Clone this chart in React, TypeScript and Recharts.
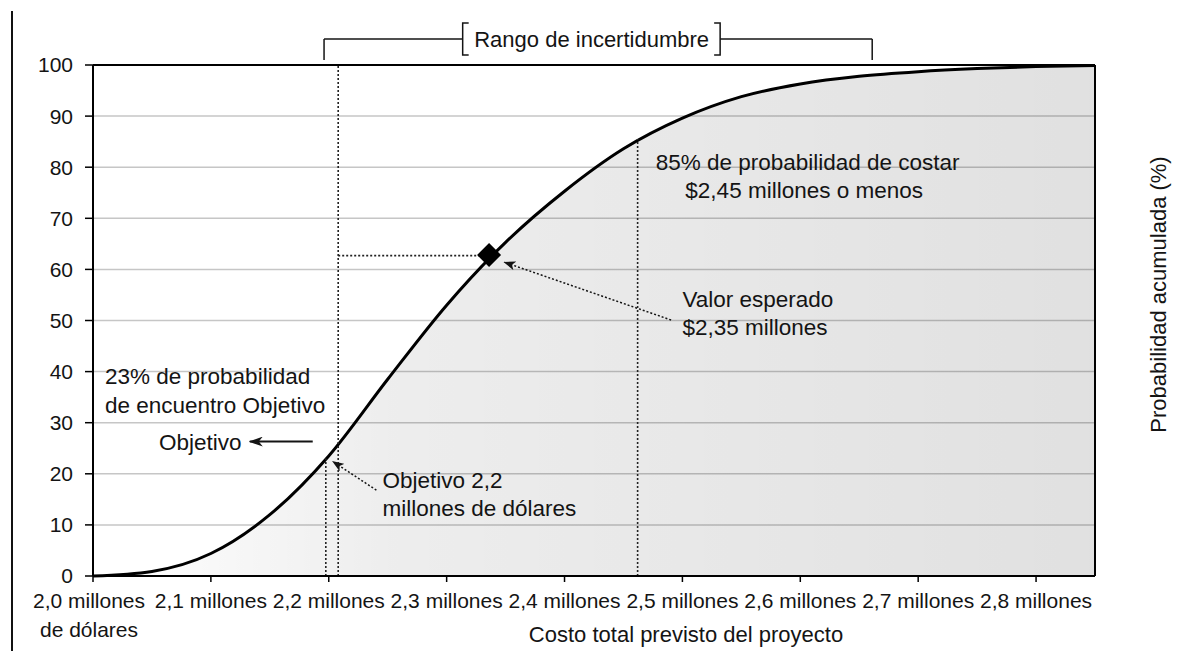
import React from "react";
import {
  ComposedChart,
  Area,
  Scatter,
  XAxis,
  YAxis,
  CartesianGrid,
  ReferenceLine,
  ReferenceDot,
  Label,
} from "recharts";

// costo total (millones) y probabilidad acumulada (%)
const costs = [2.0, 2.05, 2.1, 2.15, 2.2, 2.25, 2.3, 2.35, 2.4, 2.45, 2.5, 2.55, 2.6, 2.65, 2.7, 2.75, 2.8, 2.85];
const cumulative = [0, 0.9, 4.4, 12, 23.5, 38.5, 53, 65.3, 75.3, 83.6, 89.6, 93.8, 96.3, 97.8, 98.7, 99.3, 99.7, 99.9];

const xTicks = [2.0, 2.1, 2.2, 2.3, 2.4, 2.5, 2.6, 2.7, 2.8];
const xTickLabels = [
  "2,0 millones\nde dólares",
  "2,1 millones",
  "2,2 millones",
  "2,3 millones",
  "2,4 millones",
  "2,5 millones",
  "2,6 millones",
  "2,7 millones",
  "2,8 millones",
];
const yTicks = [0, 10, 20, 30, 40, 50, 60, 70, 80, 90, 100];

const expected = [{ x: 2.336, y: 62.8 }];
const targetCost = 2.1975;
const targetProb = 23;
const rangeLineCost = 2.208;
const p85Cost = 2.462;
const p85Prob = 85.5;
const uncertainty = [2.196, 2.661];

const data = costs.map((x, i) => ({ x, y: cumulative[i] }));

const FONT = '"Liberation Sans", Arial, sans-serif';
const INK = "#141414";

const XTick = (props: any) => {
  const { x, y, payload } = props;
  const idx = xTicks.findIndex((t) => Math.abs(t - payload.value) < 1e-6);
  const lines = (xTickLabels[idx] || "").split("\n");
  const tx = idx === 0 ? x - 4 : x;
  return (
    <text x={tx} y={y} textAnchor="middle" fontSize={21} fill={INK} fontFamily={FONT}>
      {lines.map((l, k) => (
        <tspan key={k} x={tx} dy={k === 0 ? "0.71em" : "1.38em"}>
          {l}
        </tspan>
      ))}
    </text>
  );
};

const textBlock = (lines: string[], anchor: "start" | "end" | "middle" = "start", lh = 28) => (p: any) => {
  const vb = p.viewBox || {};
  return (
    <text x={vb.x} y={vb.y} textAnchor={anchor} fontSize={22.5} fill={INK} fontFamily={FONT}>
      {lines.map((l, k) => (
        <tspan key={k} x={vb.x} dy={k === 0 ? 0 : lh}>
          {l}
        </tspan>
      ))}
    </text>
  );
};

const bracket = (dir: 1 | -1) => (p: any) => {
  const vb = p.viewBox || {};
  const s = 6 * dir;
  return (
    <path
      d={`M${vb.x + s},${vb.y - 16} H${vb.x} V${vb.y + 16} H${vb.x + s}`}
      fill="none"
      stroke={INK}
      strokeWidth={1.5}
    />
  );
};

const arrowShape = (marker: string, dash?: string, w = 1.5) => (p: any) => (
  <line
    x1={p.x1}
    y1={p.y1}
    x2={p.x2}
    y2={p.y2}
    stroke={INK}
    strokeWidth={w}
    strokeDasharray={dash}
    markerEnd={`url(#${marker})`}
  />
);

const Diamond = (p: any) => {
  const { cx, cy } = p;
  const r = 12;
  return <polygon points={`${cx},${cy - r} ${cx + r},${cy} ${cx},${cy + r} ${cx - r},${cy}`} fill="#000" />;
};

const dotted = { stroke: "#222", strokeWidth: 1.6, strokeDasharray: "2 2" };

export default function App() {
  return (
    <div style={{ position: "absolute", left: 0, top: 0, width: 1178, height: 651, background: "#fff" }}>
      <div style={{ position: "absolute", left: 11, top: 11, width: 2, height: 640, background: "#111" }} />
      <ComposedChart
        width={1178}
        height={651}
        data={data}
        margin={{ top: 65, right: 0, bottom: 0, left: 33 }}
        style={{ position: "absolute", left: 0, top: 0 }}
      >
        <defs>
          <linearGradient id="areaFill" x1="0" y1="0" x2="1" y2="0">
            <stop offset="0%" stopColor="#000" stopOpacity={0.0} />
            <stop offset="30%" stopColor="#000" stopOpacity={0.07} />
            <stop offset="100%" stopColor="#000" stopOpacity={0.12} />
          </linearGradient>
          <marker id="solidHead" viewBox="0 0 14 10" refX="13" refY="5" markerWidth="14" markerHeight="10" markerUnits="userSpaceOnUse" orient="auto">
            <path d="M0,0 L14,5 L0,10 L4,5 z" fill={INK} />
          </marker>
          <marker id="dotHead" viewBox="0 0 12 9" refX="11" refY="4.5" markerWidth="12" markerHeight="9" markerUnits="userSpaceOnUse" orient="auto">
            <path d="M0,0 L12,4.5 L0,9 L3,4.5 z" fill={INK} />
          </marker>
        </defs>
        <CartesianGrid vertical={false} stroke="#c6c6c6" strokeWidth={1.5} />
        <XAxis
          type="number"
          dataKey="x"
          domain={[2.0, 2.85]}
          ticks={xTicks}
          interval={0}
          height={75}
          tickSize={6}
          tickMargin={11}
          tick={<XTick />}
          axisLine={{ stroke: "#000", strokeWidth: 2 }}
          tickLine={{ stroke: "#000", strokeWidth: 1.5 }}
        >
          <Label
            value="Costo total previsto del proyecto"
            position="insideBottom"
            offset={9}
            dx={92}
            fontSize={22}
            fill={INK}
            fontFamily={FONT}
          />
        </XAxis>
        <YAxis
          dataKey="y"
          domain={[0, 100]}
          ticks={yTicks}
          width={60}
          tickSize={8}
          tickMargin={12}
          axisLine={{ stroke: "#000", strokeWidth: 2 }}
          tickLine={{ stroke: "#000", strokeWidth: 1.5 }}
          tick={{ fontSize: 21, fill: INK, fontFamily: FONT }}
        />
        <YAxis
          yAxisId="right"
          orientation="right"
          domain={[0, 100]}
          ticks={yTicks}
          width={83}
          tickSize={8}
          tickMargin={4}
          axisLine={{ stroke: "#000", strokeWidth: 2 }}
          tickLine={{ stroke: "#000", strokeWidth: 1.5 }}
          tick={{ fontSize: 21, fill: INK, fontFamily: FONT, textAnchor: "start" }}
        >
          <Label
            content={(p: any) => {
              const vb = p.viewBox || {};
              const cx = vb.x + 71;
              const cy = vb.y + vb.height / 2 - 26;
              return (
                <text x={cx} y={cy} transform={`rotate(-90 ${cx} ${cy})`} textAnchor="middle" fontSize={22} fill={INK} fontFamily={FONT}>
                  Probabilidad acumulada (%)
                </text>
              );
            }}
          />
        </YAxis>

        <Area
          type="monotone"
          dataKey="y"
          stroke="#000"
          strokeWidth={3}
          fill="url(#areaFill)"
          fillOpacity={1}
          dot={false}
          activeDot={false}
          isAnimationActive={false}
        />

        <ReferenceLine y={100} stroke="#000" strokeWidth={2} />

        {/* lineas punteadas */}
        <ReferenceLine segment={[{ x: rangeLineCost, y: 0 }, { x: rangeLineCost, y: 100 }]} {...dotted} />
        <ReferenceLine segment={[{ x: targetCost, y: 0 }, { x: targetCost, y: targetProb }]} {...dotted} />
        <ReferenceLine segment={[{ x: rangeLineCost, y: 62.7 }, { x: expected[0].x, y: 62.7 }]} {...dotted} />
        <ReferenceLine segment={[{ x: p85Cost, y: 0 }, { x: p85Cost, y: p85Prob }]} {...dotted} />

        {/* flechas */}
        <ReferenceLine
          segment={[{ x: 2.1864, y: 26.3 }, { x: 2.133, y: 26.3 }]}
          shape={arrowShape("solidHead", undefined, 2)}
        />
        <ReferenceLine
          segment={[{ x: 2.2404, y: 16.8 }, { x: 2.2035, y: 22.4 }]}
          shape={arrowShape("dotHead", "2 2")}
        />
        <ReferenceLine
          segment={[{ x: 2.4904, y: 50.1 }, { x: 2.349, y: 61.4 }]}
          shape={arrowShape("dotHead", "2 2")}
        />

        <Scatter data={expected} dataKey="y" shape={<Diamond />} isAnimationActive={false} />

        {/* textos */}
        <ReferenceDot x={2.4773} y={79.45} r={0} ifOverflow="visible" label={{ content: textBlock(["85% de probabilidad de costar"]) }} />
        <ReferenceDot x={2.5025} y={74.0} r={0} ifOverflow="visible" label={{ content: textBlock(["$2,45 millones o menos"]) }} />
        <ReferenceDot x={2.5} y={52.7} r={0} ifOverflow="visible" label={{ content: textBlock(["Valor esperado", "$2,35 millones"]) }} />
        <ReferenceDot x={2.0102} y={37.6} r={0} ifOverflow="visible" label={{ content: textBlock(["23% de probabilidad", "de encuentro Objetivo"], "start", 29) }} />
        <ReferenceDot x={2.126} y={24.66} r={0} ifOverflow="visible" label={{ content: textBlock(["Objetivo"], "end") }} />
        <ReferenceDot x={2.2455} y={17.2} r={0} ifOverflow="visible" label={{ content: textBlock(["Objetivo 2,2", "millones de dólares"]) }} />

        {/* rango de incertidumbre */}
        <ReferenceLine segment={[{ x: uncertainty[0], y: 105.1 }, { x: 2.3136, y: 105.1 }]} stroke={INK} strokeWidth={1.5} ifOverflow="visible" />
        <ReferenceLine segment={[{ x: 2.532, y: 105.1 }, { x: uncertainty[1], y: 105.1 }]} stroke={INK} strokeWidth={1.5} ifOverflow="visible" />
        <ReferenceLine segment={[{ x: uncertainty[0], y: 105.1 }, { x: uncertainty[0], y: 101 }]} stroke={INK} strokeWidth={1.5} ifOverflow="visible" />
        <ReferenceLine segment={[{ x: uncertainty[1], y: 105.1 }, { x: uncertainty[1], y: 101 }]} stroke={INK} strokeWidth={1.5} ifOverflow="visible" />
        <ReferenceDot x={2.3136} y={105.1} r={0} ifOverflow="visible" label={{ content: bracket(1) }} />
        <ReferenceDot x={2.532} y={105.1} r={0} ifOverflow="visible" label={{ content: bracket(-1) }} />
        <ReferenceDot
          x={2.423}
          y={105.1}
          r={0}
          ifOverflow="visible"
          label={{
            content: (p: any) => {
              const vb = p.viewBox || {};
              return (
                <text x={vb.x} y={vb.y} dy="0.36em" textAnchor="middle" fontSize={22} fill={INK} fontFamily={FONT}>
                  Rango de incertidumbre
                </text>
              );
            },
          }}
        />
      </ComposedChart>
    </div>
  );
}
